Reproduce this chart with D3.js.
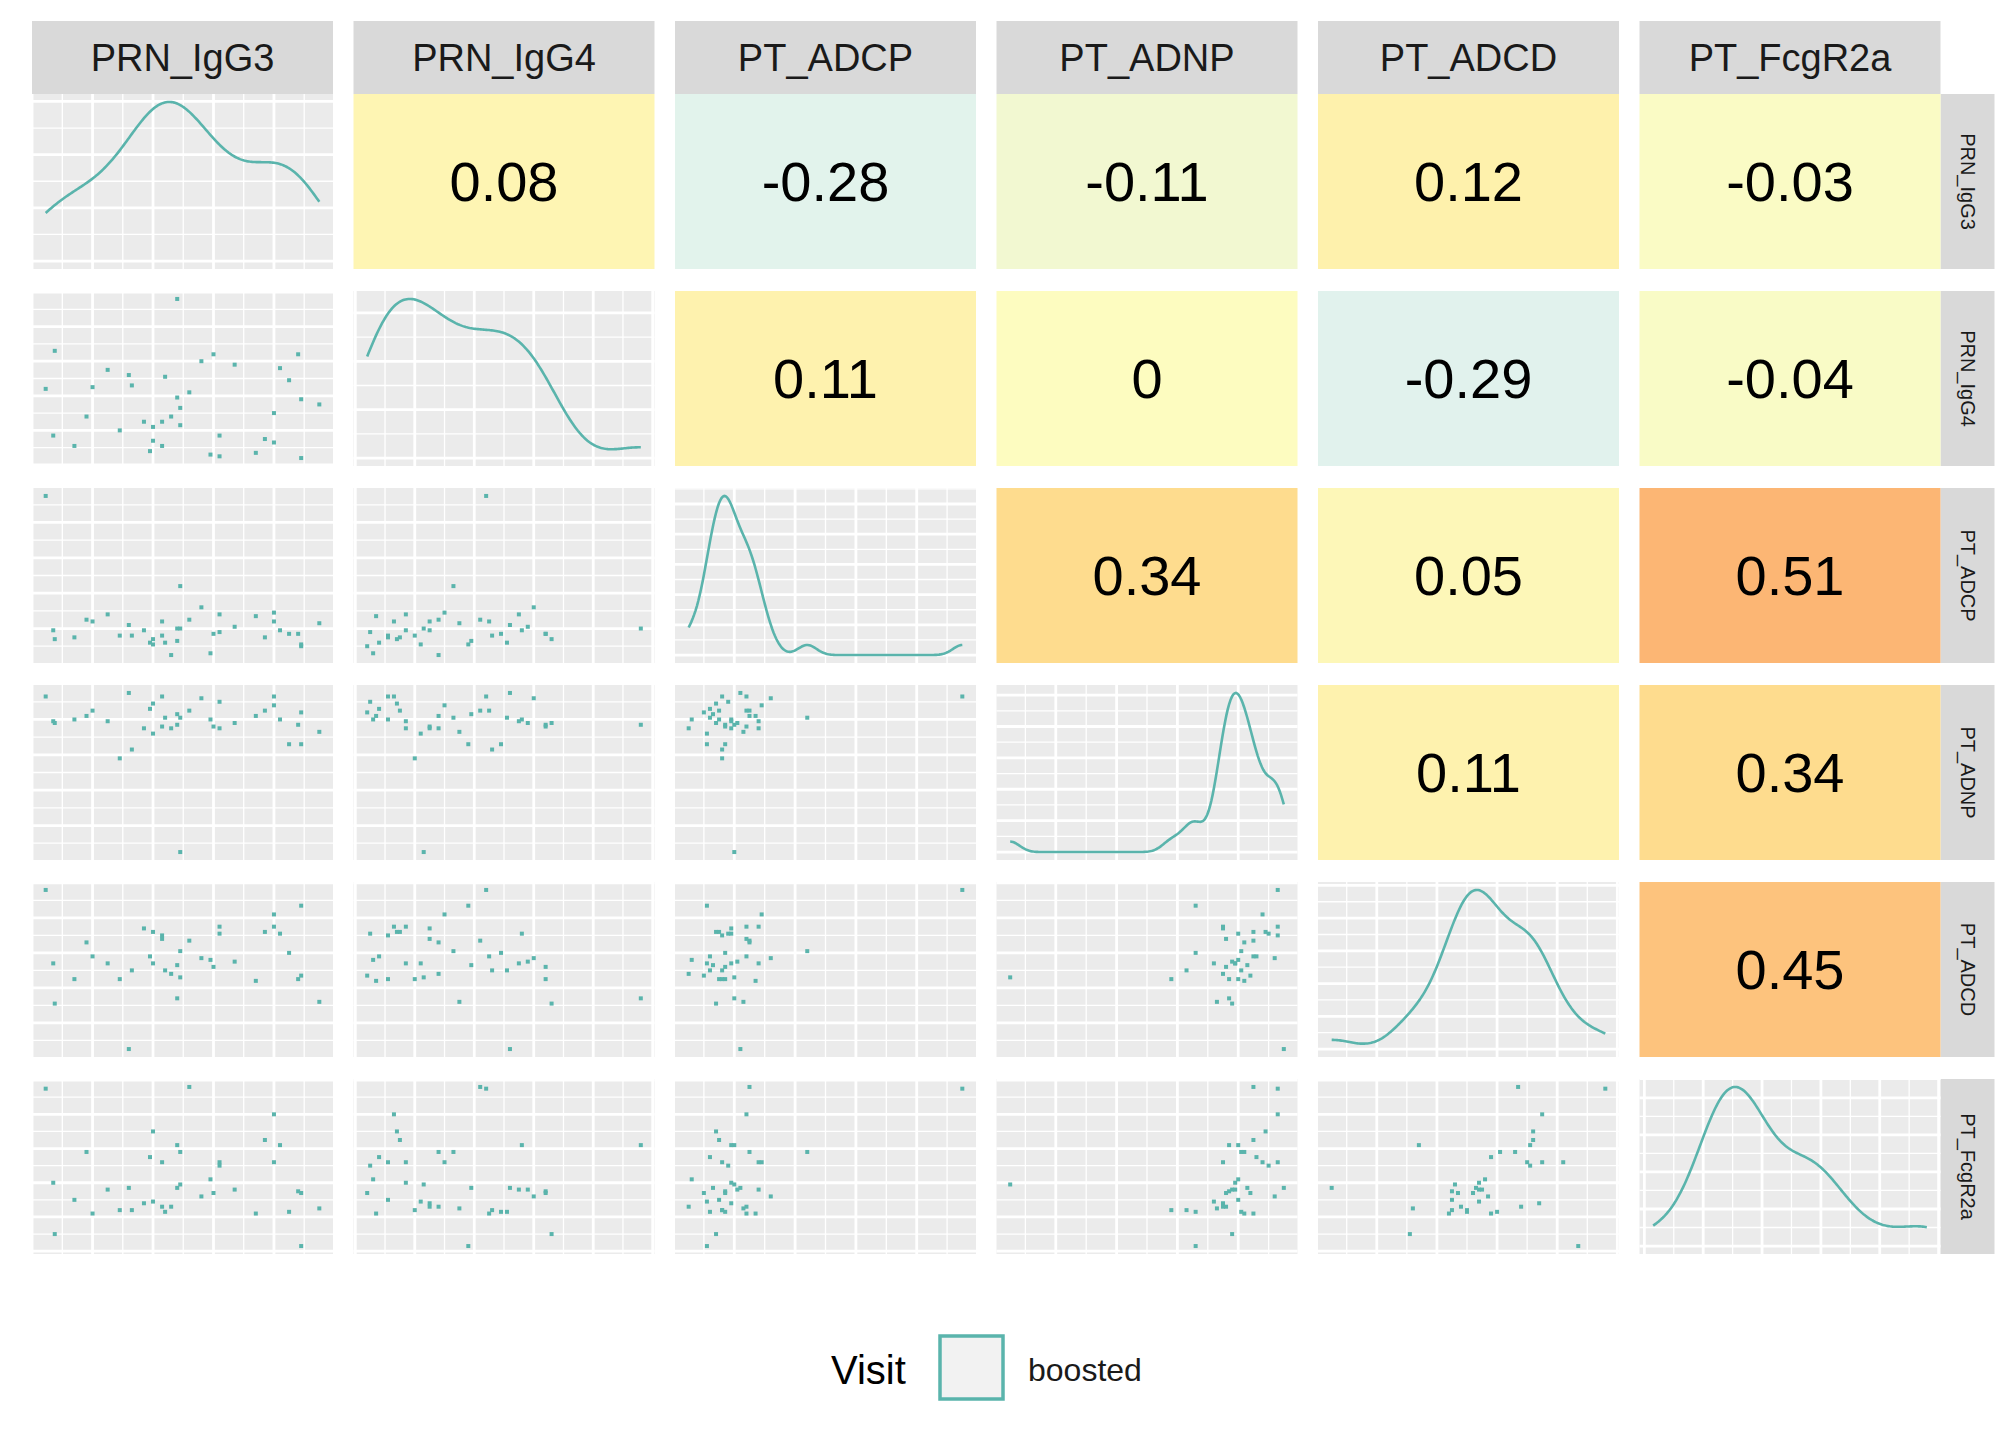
<!DOCTYPE html>
<html>
<head>
<meta charset="utf-8">
<script src="https://cdn.jsdelivr.net/npm/d3@7"></script>
<style>
  body { margin: 0; background: #fff; }
  text { font-family: "Liberation Sans", Arial, sans-serif; }
</style>
</head>
<body>
<svg id="chart" width="2016" height="1440"></svg>
<script>
// values (arbitrary units, axes are unlabelled)
const variables = ["PRN_IgG3", "PRN_IgG4", "PT_ADCP", "PT_ADNP", "PT_ADCD", "PT_FcgR2a"];
const prnIgG3 = [52, 4.5, 80, 40, 77, 82, 48, 18, 49, 39, 43, 62, 80, 62, 59, 7, 49, 32, 48, 25, 67, 88, 60, 89, 56, 14, 40, 37, 43, 46, 95, 29, 33, 85, 44, 20, 74, 7.5, 89];
const prnIgG4 = [42, 44, 13, 14, 15, 56, 96, 28, 33, 8, 11, 17, 30, 5, 6, 17, 23, 52, 39, 55, 58, 64, 64, 4, 60, 11, 22, 25, 25, 28, 35, 20, 46, 49, 51, 45, 7, 66, 38];
const ptADCP = [25, 95, 24, 14, 15, 19, 20, 25, 44, 12, 16, 28, 29, 18, 6, 19, 20, 22, 13, 28, 21, 17, 17, 10, 32, 15, 11, 19, 24, 5, 23, 16, 16, 17, 12, 24, 27, 14, 11];
const ptADNP = [85, 93, 93, 89, 85, 80, 77, 82, 81, 86, 93, 75, 88, 90, 80, 79, 5, 95, 83, 79, 78, 77, 76, 84, 92, 80, 72, 75, 76, 75, 73, 58, 63, 66, 81, 85, 82, 78, 66];
const ptADCD = [67, 96, 75, 72, 72, 71, 34, 66, 61, 58, 70, 75, 82, 71, 56, 54, 46, 5, 53, 54, 55, 45, 52, 47, 57, 45, 54, 74, 68, 48, 32, 45, 50, 60, 50, 58, 44, 31, 87];
const ptFcgR2a = [96, 95, 80, 70, 65, 62, 62, 58, 58, 55, 52, 52, 52, 50, 42, 40, 39, 37, 37, 36, 36, 35, 34, 34, 32, 30, 29, 28, 26, 26, 25, 24, 24, 23, 23, 22, 22, 10, 3];
// correlations, upper triangle, row by row
const corrValues = [
  [null, "0.08", "-0.28", "-0.11", "0.12", "-0.03"],
  [null, null, "0.11", "0", "-0.29", "-0.04"],
  [null, null, null, "0.34", "0.05", "0.51"],
  [null, null, null, null, "0.11", "0.34"],
  [null, null, null, null, null, "0.45"]
];
const legendTitle = "Visit";
const legendLabel = "boosted";

const columns = [prnIgG3, prnIgG4, ptADCP, ptADNP, ptADCD, ptFcgR2a];
const n = d3.min(columns, c => c.length);
const teal = "#5AB4AC";

const svg = d3.select("#chart");
const colX = i => 32 + i * 321.5;
const rowY = i => 94 + i * 197;
const pw = 301, ph = 175;

const fillScale = d3.scaleLinear()
  .domain([-0.3, 0, 0.12, 0.34, 0.51])
  .range(["#e0f2ef", "#fdfcc0", "#fef1ac", "#fedc8e", "#fcb674"])
  .clamp(true);

function bwNrd0(v) {
  const sd = d3.deviation(v);
  const iqr = d3.quantile(v, 0.75) - d3.quantile(v, 0.25);
  return 0.9 * Math.min(sd, iqr / 1.34) * Math.pow(v.length, -0.2);
}
function kde(v) {
  const s = v.slice().sort(d3.ascending);
  const h = bwNrd0(s);
  const [lo, hi] = d3.extent(s);
  return d3.range(0, 201).map(k => {
    const x = lo + (hi - lo) * k / 200;
    const y = d3.mean(s, t => Math.exp(-0.5 * ((x - t) / h) ** 2)) / (h * Math.sqrt(2 * Math.PI));
    return [x, y];
  });
}
function expanded(ext) {
  const d = (ext[1] - ext[0]) * 0.05;
  return [ext[0] - d, ext[1] + d];
}

function drawGrid(g, xs, ys) {
  g.append("rect").attr("width", pw).attr("height", ph).attr("fill", "#EBEBEB");
  const xt = xs.ticks(5), yt = ys.ticks(5);
  const step = (t) => t.length > 1 ? t[1] - t[0] : 1;
  const minor = (t, sc) => {
    const st = step(t), out = [];
    const d = sc.domain();
    for (let v = t[0] - st / 2; v <= d[1]; v += st) if (v >= d[0]) out.push(v);
    return out;
  };
  minor(xt, xs).forEach(v => g.append("line").attr("x1", xs(v)).attr("x2", xs(v)).attr("y1", 0).attr("y2", ph).attr("stroke", "#fff").attr("stroke-width", 1.3));
  minor(yt, ys).forEach(v => g.append("line").attr("y1", ys(v)).attr("y2", ys(v)).attr("x1", 0).attr("x2", pw).attr("stroke", "#fff").attr("stroke-width", 1.3));
  xt.forEach(v => g.append("line").attr("x1", xs(v)).attr("x2", xs(v)).attr("y1", 0).attr("y2", ph).attr("stroke", "#fff").attr("stroke-width", 2.8));
  yt.forEach(v => g.append("line").attr("y1", ys(v)).attr("y2", ys(v)).attr("x1", 0).attr("x2", pw).attr("stroke", "#fff").attr("stroke-width", 2.8));
}

// column strips
variables.forEach((v, i) => {
  svg.append("rect").attr("x", colX(i)).attr("y", 21).attr("width", pw).attr("height", 73).attr("fill", "#D9D9D9");
  svg.append("text").attr("x", colX(i) + pw / 2).attr("y", 57.5).attr("text-anchor", "middle")
    .attr("dominant-baseline", "central").attr("font-size", 38).attr("fill", "#1a1a1a").text(v);
  // row strips
  const cy = rowY(i) + ph / 2;
  svg.append("rect").attr("x", colX(5) + pw).attr("y", rowY(i)).attr("width", 54).attr("height", ph).attr("fill", "#D9D9D9");
  svg.append("text").attr("transform", `translate(${colX(5) + pw + 27},${cy}) rotate(90)`)
    .attr("text-anchor", "middle").attr("dominant-baseline", "central")
    .attr("font-size", 20).attr("fill", "#1a1a1a").text(v);
});

for (let r = 0; r < 6; r++) {
  for (let c = 0; c < 6; c++) {
    const g = svg.append("g").attr("transform", `translate(${colX(c)},${rowY(r)})`);
    if (c > r) {
      const val = corrValues[r][c];
      g.append("rect").attr("width", pw).attr("height", ph).attr("fill", fillScale(+val));
      g.append("text").attr("x", pw / 2).attr("y", ph / 2).attr("text-anchor", "middle")
        .attr("dominant-baseline", "central").attr("font-size", 56).attr("fill", "#000").text(val);
    } else if (c === r) {
      const vals = columns[c].slice(0, n);
      const dens = kde(vals);
      const xs = d3.scaleLinear().domain(expanded(d3.extent(vals))).range([0, pw]);
      const ys = d3.scaleLinear().domain(expanded([0, d3.max(dens, d => d[1])])).range([ph, 0]);
      drawGrid(g, xs, ys);
      g.append("path").datum(dens)
        .attr("d", d3.line().x(d => xs(d[0])).y(d => ys(d[1])))
        .attr("fill", "none").attr("stroke", teal).attr("stroke-width", 2.6);
    } else {
      const xv = columns[c].slice(0, n), yv = columns[r].slice(0, n);
      const xs = d3.scaleLinear().domain(expanded(d3.extent(xv))).range([0, pw]);
      const ys = d3.scaleLinear().domain(expanded(d3.extent(yv))).range([ph, 0]);
      drawGrid(g, xs, ys);
      g.selectAll("rect.pt").data(d3.range(n)).join("rect").attr("class", "pt")
        .attr("x", i => xs(xv[i]) - 2).attr("y", i => ys(yv[i]) - 2)
        .attr("width", 4).attr("height", 4).attr("fill", teal);
    }
  }
}

// legend
svg.append("text").attr("x", 831).attr("y", 1370).attr("dominant-baseline", "central")
  .attr("font-size", 40).attr("fill", "#000").text(legendTitle);
svg.append("rect").attr("x", 940).attr("y", 1336).attr("width", 63).attr("height", 63)
  .attr("fill", "#F2F2F2").attr("stroke", teal).attr("stroke-width", 3.5);
svg.append("text").attr("x", 1028).attr("y", 1370).attr("dominant-baseline", "central")
  .attr("font-size", 32).attr("fill", "#1a1a1a").text(legendLabel);
</script>
</body>
</html>
